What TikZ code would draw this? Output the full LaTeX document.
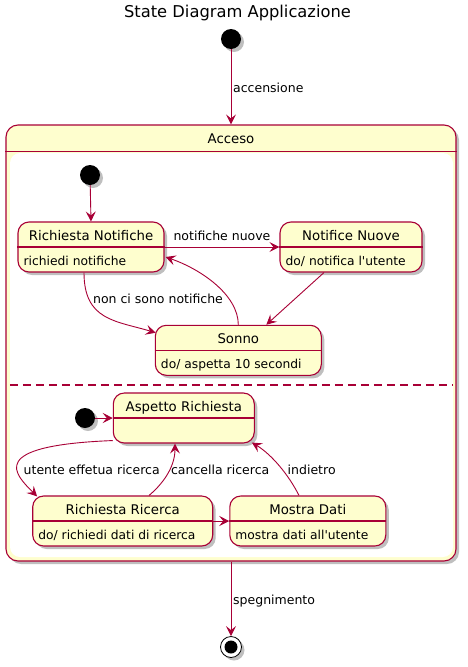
\documentclass[tikz,border=0pt]{standalone}
\usepackage{fontspec}
\setmainfont{DejaVu Sans}[Ligatures=TeXOff]
\usepackage{tikz}
\usetikzlibrary{positioning,calc,shadows,arrows.meta}
\definecolor{umlred}{HTML}{A80036}
\definecolor{umlfill}{HTML}{FEFECE}

% state box: name, centre, width, title, body
\newcommand{\umlstate}[5]{%
  \node[state, minimum width=#3pt] (#1) at (#2) {};
  \draw[sepline] (#1.west) -- (#1.east);
  \node[statetitle, anchor=base] (#1-t) at ($(#1.north)+(0,19)$) {#4};
  \node[statebody, anchor=base west] (#1-b) at ($(#1.west)+(6,18)$) {#5};
}

\begin{document}
\begin{tikzpicture}[
        x=1pt, y=-1pt,
        umlshadow/.style={drop shadow={shadow xshift=3pt, shadow yshift=-3pt, fill=black, opacity=.25}},
        state/.style={rectangle, rounded corners=11pt, draw=umlred, line width=1.1pt,
            fill=umlfill, umlshadow, inner sep=0pt, minimum height=50pt},
        sepline/.style={color=umlred, line width=1.2pt},
        regionline/.style={color=umlred, line width=1.1pt, dash pattern=on 8pt off 5pt},
        statetitle/.style={inner sep=0pt, font=\fontsize{13.3}{16}\selectfont},
        statebody/.style={inner sep=0pt, font=\fontsize{12.3}{15}\selectfont},
        lbl/.style={inner sep=0pt, font=\fontsize{12.5}{15}\selectfont},
        diagtitle/.style={inner sep=0pt, font=\fontsize{16.3}{19}\selectfont},
        startdot/.style={circle, fill=black, minimum size=20pt, inner sep=0pt, umlshadow},
        enddot/.style={circle, draw=black, line width=.8pt, fill=white, minimum size=21pt, inner sep=0pt, umlshadow},
        arr/.style={-{Stealth[length=10pt, width=10pt, inset=4pt]}, color=umlred, line width=.9pt}
    ]
    \useasboundingbox (0,0) rectangle (467,667);

    \node[diagtitle, anchor=base] (title) at (237.5,17) {State Diagram Applicazione};

    % composite state
    \node[state, rounded corners=12pt, minimum width=450pt, minimum height=436pt] (acceso) at (231,343) {};
    \node[fill=white, rounded corners=10pt, minimum width=443pt, minimum height=404pt, inner sep=0pt] (acceso-in) at (231.5,355) {};
    \draw[sepline] ($(acceso.north west)+(0,27)$) -- ($(acceso.north east)+(0,27)$);
    \node[statetitle, anchor=base] (acceso-t) at ($(acceso.north)+(0,19)$) {Acceso};
    \draw[regionline] ($(acceso-in.west)+(0,30)$) -- ($(acceso-in.east)+(0,30)$);

    % start / end
    \node[startdot] (s0) at (231,39) {};
    \node[startdot] (s1) at (90,175) {};
    \node[startdot] (s2) at (85,418) {};
    \node[enddot] (f0) at (231,647) {};
    \node[circle, fill=black, minimum size=13pt, inner sep=0pt] (f0-in) at (f0) {};

    % states
    \umlstate{rn}{91,247}{146}{Richiesta Notifiche}{richiedi notifiche}
    \umlstate{nn}{351,247}{142}{Notifice Nuove}{do/ notifica l'utente}
    \umlstate{so}{238.3,350.3}{166}{Sonno}{do/ aspetta 10 secondi}
    \umlstate{ar}{183.8,418}{141}{Aspetto Richiesta}{}
    \umlstate{rr}{122.7,521}{180}{Richiesta Ricerca}{do/ richiedi dati di ricerca}
    \umlstate{md}{307.8,521}{156}{Mostra Dati}{mostra dati all'utente}

    % transitions
    \draw[arr] (s0) -- (acceso.north);
    \node[lbl, anchor=base west] (l-acc) at (233,92) {accensione};
    \draw[arr] (s1) -- (rn.north);
    \draw[arr] (rn.east) -- (nn.west);
    \node[lbl, anchor=base] (l-nn) at (222,240.5) {notifiche nuove};
    \draw[arr] ($(rn.south)+(-7,0)$) .. controls +(0,48) and +(-40,-12) .. ($(so.north west)+(1,8)$);
    \node[lbl, anchor=base] (l-nc) at (158,303) {non ci sono notifiche};
    \draw[arr] (so.north) .. controls +(0,-30) and +(35,12) .. ($(rn.east)+(1,10)$);
    \draw[arr] ($(nn.south)+(-27,0)$) -- ($(so.north)+(28,0)$);

    \draw[arr] (s2) -- (ar.west);
    \draw[arr] ($(ar.south west)+(0,-3)$) .. controls +(-128,5) and +(-22,-22) .. ($(rr.north west)+(5,1)$);
    \node[lbl, anchor=base] (l-ue) at (91.7,474) {utente effetua ricerca};
    \draw[arr] ($(rr.north)+(26.3,0)$) .. controls +(12,-10) and +(0,25) .. ($(ar.south)+(-8.8,0)$);
    \node[lbl, anchor=base] (l-cr) at (220.2,474) {cancella ricerca};
    \draw[arr] ($(md.north)+(-8.8,0)$) .. controls +(-10,-20) and +(20,12) .. ($(ar.south east)+(-3,-1)$);
    \node[lbl, anchor=base] (l-in) at (311.7,474) {indietro};
    \draw[arr] (rr.east) -- (md.west);

    \draw[arr] (acceso.south) -- (f0);
    \node[lbl, anchor=base west] (l-sp) at (233,604) {spegnimento};
\end{tikzpicture}
\end{document}
